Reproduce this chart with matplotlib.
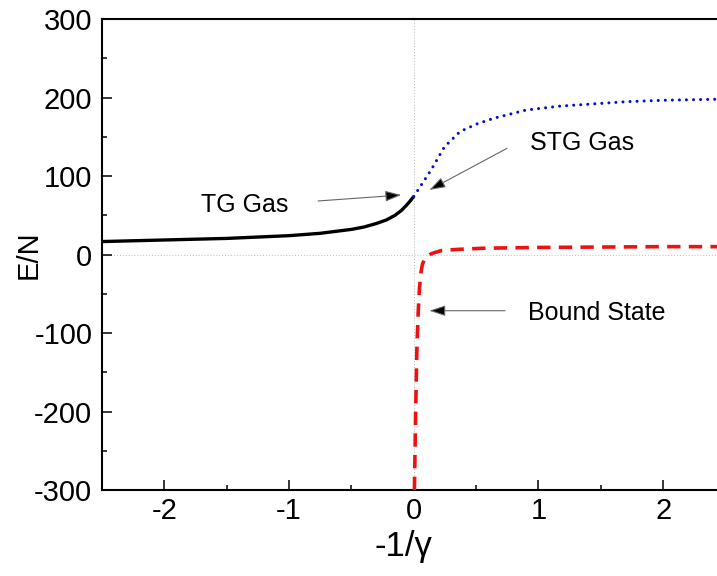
import matplotlib
matplotlib.use("Agg")
import matplotlib.pyplot as plt

plt.rcParams['font.family'] = ['Liberation Sans', 'DejaVu Sans']
plt.rcParams['axes.unicode_minus'] = False

# Tonks-Girardeau gas branch (gamma > 0)
tg_x = [-2.5, -2.0, -1.5, -1.0, -0.75, -0.5, -0.4, -0.3, -0.22, -0.15, -0.1, -0.06, -0.03, 0.0]
tg_y = [16.5, 18.5, 20.5, 24.0, 27.0, 32.0, 35.0, 39.5, 44.0, 50.0, 56.0, 62.5, 68.0, 74.0]

# super Tonks-Girardeau gas branch
stg_x = [0.0, 0.07, 0.14, 0.245, 0.37, 0.5, 0.64, 0.9, 1.17, 1.5, 1.71, 2.0, 2.4, 2.5]
stg_y = [74.0, 91.0, 108.0, 137.0, 156.5, 166.0, 173.5, 184.0, 189.0, 192.5, 194.7, 196.5, 197.7, 198.0]

# bound state branch
bound_x = [0.005, 0.015, 0.025, 0.035, 0.045, 0.055, 0.07, 0.095, 0.14, 0.22, 0.35, 0.56, 1.0, 1.5, 2.0, 2.5]
bound_y = [-300, -200, -120, -75, -45, -25, -12, -4, 1, 5, 6.5, 8, 9, 9.5, 10, 10]

fig = plt.figure(figsize=(7.17, 5.76), dpi=100)
ax = fig.add_axes([0.1423, 0.1493, 0.8696, 0.8177])

ax.axvline(0, color='#bbbbbb', lw=0.7, ls=(0, (1, 2)), zorder=1)
ax.axhline(0, color='#bbbbbb', lw=0.7, ls=(0, (1, 2)), zorder=1)

ax.plot(tg_x, tg_y, color='black', lw=2.4, solid_capstyle='butt', zorder=3)
ax.plot(stg_x, stg_y, color='#0010d0', lw=2.2, dashes=(0.01, 2.3),
        dash_capstyle='round', zorder=3)
ax.plot(bound_x, bound_y, color='#ee1111', lw=2.6, dashes=(3.7, 2.3), zorder=3)

ax.set_xlim(-2.5, 2.5)
ax.set_ylim(-300, 300)
ax.set_xticks([-2, -1, 0, 1, 2])
ax.set_xticks([-2.5, -1.5, -0.5, 0.5, 1.5, 2.5], minor=True)
ax.set_yticks([-300, -200, -100, 0, 100, 200, 300])
ax.set_yticks([-250, -150, -50, 50, 150, 250], minor=True)

for side in ['top', 'left', 'bottom']:
    ax.spines[side].set_linewidth(1.5)
ax.spines['right'].set_visible(False)
ax.tick_params(which='both', direction='in', width=1.1, labelsize=21)
ax.tick_params(which='major', length=7)
ax.tick_params(which='minor', length=3.5)
ax.tick_params(axis='x', pad=5)
ax.tick_params(axis='y', pad=7)

ax.set_xlabel('-1/γ', fontsize=25)
ax.set_ylabel('E/N', fontsize=21)
ax.xaxis.set_label_coords(0.483, -0.085)
ax.yaxis.set_label_coords(-0.095, 0.5)

arrow = dict(arrowstyle='-|>,head_length=0.75,head_width=0.25', fc='black',
             ec='#666666', lw=0.8, mutation_scale=13, shrinkA=0, shrinkB=0)
ax.annotate('', xy=(-0.1, 75.8), xytext=(-0.767, 68.2), arrowprops=arrow)
ax.annotate('', xy=(0.125, 82.2), xytext=(0.748, 135.3), arrowprops=arrow)
ax.annotate('', xy=(0.125, -71.6), xytext=(0.732, -71.6), arrowprops=arrow)

ax.text(-1.36, 54, 'TG Gas', fontsize=18, ha='center', va='baseline')
ax.text(1.35, 133, 'STG Gas', fontsize=18, ha='center', va='baseline')
ax.text(1.466, -83.4, 'Bound State', fontsize=18, ha='center', va='baseline')

fig.savefig('out.png', dpi=100)
